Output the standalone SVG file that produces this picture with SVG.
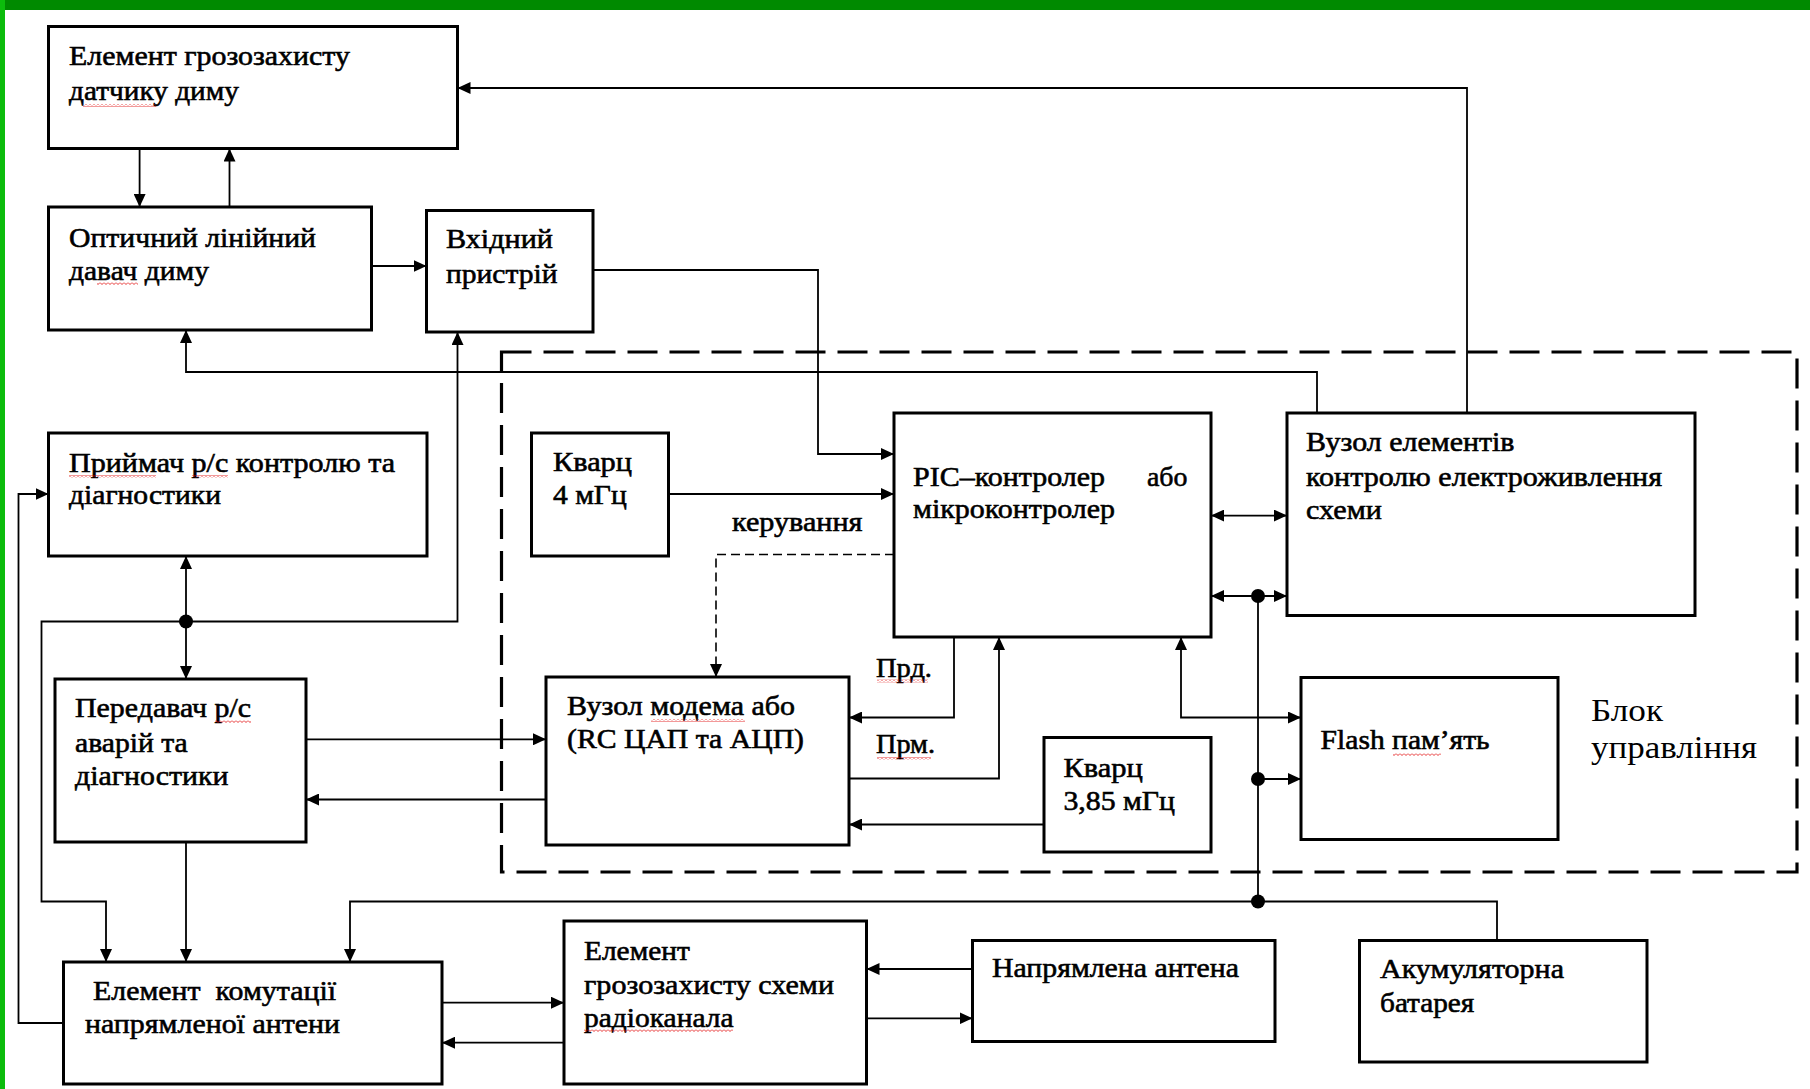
<svg xmlns="http://www.w3.org/2000/svg" width="1810" height="1089" viewBox="0 0 1810 1089">
<style>
  .box { fill: #fff; stroke: #000; stroke-width: 3; }
  .t { font-family: "Liberation Serif", "Times New Roman", serif; font-size: 28px; fill: #000; stroke: #000; stroke-width: 0.6; }
  .lbl { font-family: "Liberation Serif", "Times New Roman", serif; font-size: 32px; fill: #000; }
  .c { fill: none; stroke: #000; stroke-width: 1.8; }
  .dash { fill: none; stroke: #000; stroke-width: 1.6; stroke-dasharray: 9 5; }
  .blk { fill: none; stroke: #000; stroke-width: 3.2; stroke-dasharray: 30 12; }
  .dot { fill: #000; }
  .sq { fill: url(#wavy); }
</style>
<defs>
  <marker id="ah" viewBox="0 0 13 12" refX="13" refY="6" markerWidth="13" markerHeight="12" markerUnits="userSpaceOnUse" orient="auto-start-reverse">
    <path d="M0,0 L13,6 L0,12 z" fill="#000"/>
  </marker>
  <pattern id="wavy" x="0" y="0" width="4" height="3" patternUnits="userSpaceOnUse">
    <path d="M0,0.5 L2,2.5 L4,0.5" fill="none" stroke="#e00000" stroke-width="0.8"/>
  </pattern>
</defs>
<rect x="0" y="0" width="1810" height="1089" fill="#fff"/>
<rect x="0" y="0" width="1810" height="10" fill="#008a00"/>
<rect x="0" y="0" width="5" height="1089" fill="#0cbc0c"/>

<g id="control-block">
  <rect class="blk" x="501.5" y="352" width="1295.5" height="520"/>
  <text class="lbl" x="1591" y="720.5" textLength="72" lengthAdjust="spacingAndGlyphs">Блок</text>
  <text class="lbl" x="1591" y="758.4" textLength="166" lengthAdjust="spacingAndGlyphs">управління</text>
</g>

<g id="connectors">
  <line class="c" x1="139.6" y1="148.5" x2="139.6" y2="207" marker-end="url(#ah)"/>
  <line class="c" x1="229.5" y1="207" x2="229.5" y2="148.5" marker-end="url(#ah)"/>
  <line class="c" x1="371.5" y1="266" x2="426.5" y2="266" marker-end="url(#ah)"/>
  <path class="c" d="M593,270 H818 V454 H894" marker-end="url(#ah)"/>
  <path class="c" d="M1467,413 V88 H457.5" marker-end="url(#ah)"/>
  <path class="c" d="M1317,413 V372 H186 V330" marker-end="url(#ah)"/>
  <line class="c" x1="668.5" y1="494" x2="894" y2="494" marker-end="url(#ah)"/>
  <path class="dash" d="M894,554.5 H716 V677" marker-end="url(#ah)"/>
  <path class="c" d="M954,637 V717.5 H849" marker-end="url(#ah)"/>
  <path class="c" d="M849,778.5 H999 V637" marker-end="url(#ah)"/>
  <line class="c" x1="1044" y1="824.5" x2="849" y2="824.5" marker-end="url(#ah)"/>
  <path class="c" d="M1181,637 V717.5 H1301" marker-start="url(#ah)" marker-end="url(#ah)"/>
  <line class="c" x1="1211" y1="515.6" x2="1287" y2="515.6" marker-start="url(#ah)" marker-end="url(#ah)"/>
  <line class="c" x1="1211" y1="596" x2="1287" y2="596" marker-start="url(#ah)" marker-end="url(#ah)"/>
  <line class="c" x1="1258" y1="596" x2="1258" y2="901.5"/>
  <line class="c" x1="1258" y1="779" x2="1301" y2="779" marker-end="url(#ah)"/>
  <path class="c" d="M1497,940.5 V901.5 H350 V962" marker-end="url(#ah)"/>
  <path class="c" d="M106,962 V901.5 H41.5 V621.5 H457.5 V332" marker-start="url(#ah)" marker-end="url(#ah)"/>
  <line class="c" x1="186" y1="556" x2="186" y2="679" marker-start="url(#ah)" marker-end="url(#ah)"/>
  <line class="c" x1="306" y1="739.3" x2="546" y2="739.3" marker-end="url(#ah)"/>
  <line class="c" x1="546" y1="799.5" x2="306" y2="799.5" marker-end="url(#ah)"/>
  <line class="c" x1="186" y1="842" x2="186" y2="962" marker-end="url(#ah)"/>
  <path class="c" d="M63.5,1023 H18.5 V494 H48.5" marker-end="url(#ah)"/>
  <line class="c" x1="442" y1="1002.7" x2="564" y2="1002.7" marker-end="url(#ah)"/>
  <line class="c" x1="564" y1="1042.7" x2="442" y2="1042.7" marker-end="url(#ah)"/>
  <line class="c" x1="972.5" y1="969" x2="866.5" y2="969" marker-end="url(#ah)"/>
  <line class="c" x1="866.5" y1="1018.3" x2="972.5" y2="1018.3" marker-end="url(#ah)"/>
  <circle class="dot" cx="186" cy="621.5" r="7"/>
  <circle class="dot" cx="1258" cy="596" r="7"/>
  <circle class="dot" cx="1258" cy="779" r="7"/>
  <circle class="dot" cx="1258" cy="901.5" r="7"/>
</g>

<g id="n1">
  <rect class="box" x="48.5" y="26.5" width="409" height="122"/>
  <text class="t" x="69" y="65" textLength="281" lengthAdjust="spacingAndGlyphs">Елемент грозозахисту</text>
  <text class="t" x="69" y="100" textLength="170" lengthAdjust="spacingAndGlyphs">датчику диму</text>
  <rect class="sq" x="83" y="104" width="73" height="3"/>
</g>
<g id="n2">
  <rect class="box" x="48.5" y="207" width="323" height="123"/>
  <text class="t" x="69" y="247" textLength="247" lengthAdjust="spacingAndGlyphs">Оптичний лінійний</text>
  <text class="t" x="69" y="280" textLength="140" lengthAdjust="spacingAndGlyphs">давач диму</text>
  <rect class="sq" x="97" y="282" width="41" height="3"/>
</g>
<g id="n3">
  <rect class="box" x="426.5" y="210.5" width="166.5" height="121.5"/>
  <text class="t" x="446" y="248" textLength="107" lengthAdjust="spacingAndGlyphs">Вхідний</text>
  <text class="t" x="446" y="283" textLength="111.5" lengthAdjust="spacingAndGlyphs">пристрій</text>
</g>
<g id="n4">
  <rect class="box" x="48.5" y="433" width="378.5" height="123"/>
  <text class="t" x="69" y="472" textLength="326" lengthAdjust="spacingAndGlyphs">Приймач р/с контролю та</text>
  <text class="t" x="69" y="504" textLength="152" lengthAdjust="spacingAndGlyphs">діагностики</text>
  <rect class="sq" x="69" y="475" width="87" height="3"/>
  <rect class="sq" x="192" y="475" width="36" height="3"/>
</g>
<g id="n5">
  <rect class="box" x="55" y="679" width="251" height="163"/>
  <text class="t" x="75" y="717" textLength="176" lengthAdjust="spacingAndGlyphs">Передавач р/с</text>
  <text class="t" x="75" y="751.5" textLength="112.7" lengthAdjust="spacingAndGlyphs">аварій та</text>
  <text class="t" x="75" y="785" textLength="153.4" lengthAdjust="spacingAndGlyphs">діагностики</text>
  <rect class="sq" x="215" y="720" width="36" height="3"/>
</g>
<g id="n6">
  <rect class="box" x="531.5" y="433" width="137" height="123"/>
  <text class="t" x="553" y="471" textLength="79" lengthAdjust="spacingAndGlyphs">Кварц</text>
  <text class="t" x="553" y="503.6" textLength="73.7" lengthAdjust="spacingAndGlyphs">4 мГц</text>
</g>
<g id="n7">
  <rect class="box" x="894" y="413" width="317" height="224"/>
  <text class="t" x="913" y="486.3" textLength="192" lengthAdjust="spacingAndGlyphs">PIC–контролер</text>
  <text class="t" x="1147" y="486.3" textLength="40.5" lengthAdjust="spacingAndGlyphs">або</text>
  <text class="t" x="913" y="518" textLength="202" lengthAdjust="spacingAndGlyphs">мікроконтролер</text>
</g>
<g id="n8">
  <rect class="box" x="1287" y="413" width="408" height="202.5"/>
  <text class="t" x="1306" y="451" textLength="208.5" lengthAdjust="spacingAndGlyphs">Вузол елементів</text>
  <text class="t" x="1306" y="486.3" textLength="356" lengthAdjust="spacingAndGlyphs">контролю електроживлення</text>
  <text class="t" x="1306" y="519" textLength="76" lengthAdjust="spacingAndGlyphs">схеми</text>
</g>
<g id="n9">
  <rect class="box" x="546" y="677" width="303" height="168"/>
  <text class="t" x="567" y="715.3" textLength="228" lengthAdjust="spacingAndGlyphs">Вузол модема або</text>
  <text class="t" x="567" y="748" textLength="237" lengthAdjust="spacingAndGlyphs">(RC ЦАП та АЦП)</text>
  <rect class="sq" x="651" y="719" width="94" height="3"/>
</g>
<g id="n10">
  <rect class="box" x="1044" y="737.5" width="167" height="114.5"/>
  <text class="t" x="1063.4" y="777.3" textLength="79.5" lengthAdjust="spacingAndGlyphs">Кварц</text>
  <text class="t" x="1063.4" y="810" textLength="111.6" lengthAdjust="spacingAndGlyphs">3,85 мГц</text>
</g>
<g id="n11">
  <rect class="box" x="1301" y="677.5" width="257" height="162"/>
  <text class="t" x="1320.6" y="749" textLength="169" lengthAdjust="spacingAndGlyphs">Flash пам’ять</text>
  <rect class="sq" x="1393" y="753" width="48" height="3"/>
</g>
<g id="n12">
  <rect class="box" x="63.5" y="962" width="378.5" height="122"/>
  <text class="t" x="93" y="1000" style="white-space:pre" textLength="243" lengthAdjust="spacingAndGlyphs">Елемент  комутації</text>
  <text class="t" x="85" y="1033.3" textLength="255" lengthAdjust="spacingAndGlyphs">напрямленої антени</text>
</g>
<g id="n13">
  <rect class="box" x="564" y="921" width="302.5" height="163"/>
  <text class="t" x="584" y="960" textLength="105.8" lengthAdjust="spacingAndGlyphs">Елемент</text>
  <text class="t" x="584" y="994" textLength="250" lengthAdjust="spacingAndGlyphs">грозозахисту схеми</text>
  <text class="t" x="584" y="1026.7" textLength="149.6" lengthAdjust="spacingAndGlyphs">радіоканала</text>
  <rect class="sq" x="584" y="1029" width="149" height="3"/>
</g>
<g id="n14">
  <rect class="box" x="972.5" y="940.5" width="302.5" height="101"/>
  <text class="t" x="992" y="976.7" textLength="247" lengthAdjust="spacingAndGlyphs">Напрямлена антена</text>
</g>
<g id="n15">
  <rect class="box" x="1359.5" y="940.5" width="287.5" height="121.5"/>
  <text class="t" x="1380" y="978.3" textLength="184" lengthAdjust="spacingAndGlyphs">Акумуляторна</text>
  <text class="t" x="1380" y="1011.7" textLength="94.3" lengthAdjust="spacingAndGlyphs">батарея</text>
</g>

<g id="labels">
  <text class="t" x="732" y="531" textLength="130.5" lengthAdjust="spacingAndGlyphs">керування</text>
  <text class="t" x="876" y="676.8" textLength="56" lengthAdjust="spacingAndGlyphs">Прд.</text>
  <rect class="sq" x="877" y="679.5" width="51" height="3"/>
  <text class="t" x="876" y="753.2" textLength="59" lengthAdjust="spacingAndGlyphs">Прм.</text>
  <rect class="sq" x="877" y="757" width="54" height="3"/>
</g>
</svg>
